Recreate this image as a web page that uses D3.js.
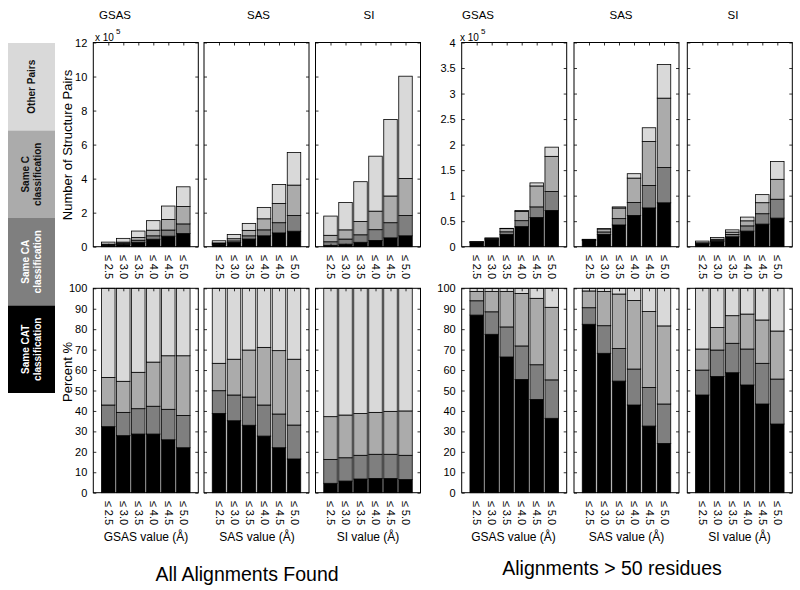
<!DOCTYPE html>
<html><head><meta charset="utf-8">
<script src="https://cdn.jsdelivr.net/npm/d3@7"></script>
<style>
body{margin:0;background:#fff}
text{font-family:"Liberation Sans",Arial,Helvetica,sans-serif}
</style>
</head><body>
<svg id="c" width="800" height="590"></svg>
<script>
// ---------- data ----------
const categories = ["≤ 2.5","≤ 3.0","≤ 3.5","≤ 4.0","≤ 4.5","≤ 5.0"];
const classes = ["Same CAT classification","Same CA classification","Same C classification","Other Pairs"];
const legendLines = [["Same CAT","classification"],["Same CA","classification"],["Same C","classification"],["Other Pairs"]];
const colors = ["#000000","#7f7f7f","#ababab","#d9d9d9"];
const legendText = ["#ffffff","#ffffff","#111111","#111111"];
const columnTitles = ["GSAS","SAS","SI"];
const xAxisTitles = ["GSAS value (Å)","SAS value (Å)","SI value (Å)"];
const groupTitles = ["All Alignments Found","Alignments > 50 residues"];
const countTicksAll = [0,2,4,6,8,10,12];
const countTicksLong = [0,0.5,1,1.5,2,2.5,3,3.5,4];
const percentTicks = [0,10,20,30,40,50,60,70,80,90,100];

// counts in units of 10^5, rows: CAT, CA, C, Other
const countAllGSAS = [[0.09,0.14,0.26,0.44,0.62,0.77],[0.03,0.06,0.12,0.20,0.36,0.57],[0.03,0.07,0.16,0.33,0.62,1.02],[0.12,0.22,0.38,0.56,0.79,1.16]];
const countAllSAS  = [[0.135,0.25,0.45,0.64,0.81,0.91],[0.04,0.09,0.19,0.35,0.60,0.92],[0.047,0.13,0.32,0.65,1.13,1.79],[0.128,0.25,0.41,0.67,1.12,1.92]];
const countAllSI   = [[0.08,0.15,0.26,0.37,0.52,0.64],[0.21,0.30,0.44,0.63,0.89,1.19],[0.38,0.54,0.78,1.09,1.57,2.18],[1.13,1.61,2.34,3.23,4.50,6.01]];
const countLongGSAS = [[0.085,0.132,0.239,0.393,0.57,0.71],[0.007,0.019,0.053,0.117,0.21,0.37],[0.004,0.017,0.062,0.182,0.41,0.69],[0.002,0.002,0.006,0.018,0.06,0.18]];
const countLongSAS  = [[0.119,0.241,0.426,0.613,0.76,0.86],[0.012,0.048,0.124,0.252,0.44,0.69],[0.012,0.059,0.208,0.479,0.86,1.36],[0.002,0.006,0.022,0.086,0.27,0.66]];
const countLongSI   = [[0.053,0.102,0.194,0.306,0.443,0.56],[0.013,0.024,0.047,0.102,0.203,0.37],[0.011,0.020,0.045,0.099,0.216,0.39],[0.033,0.034,0.044,0.073,0.158,0.35]];

// percentages, rows: CAT, CA, C, Other
const pctAllGSAS = [[32.3,27.9,28.7,28.7,25.9,22.0],[10.6,11.4,12.4,13.6,14.9,15.8],[13.5,15.2,17.8,21.6,26.2,29.2],[43.6,45.5,41.1,36.1,33.0,33.0]];
const pctAllSAS  = [[38.8,35.2,33.0,27.7,22.0,16.5],[11.1,12.6,13.8,15.2,16.5,16.6],[13.4,17.5,23.0,28.2,31.0,32.2],[36.7,34.7,30.2,28.9,30.5,34.7]];
const pctAllSI   = [[4.6,5.7,6.7,7.0,6.9,6.4],[11.7,11.4,11.6,11.8,11.9,11.9],[20.9,20.9,20.4,20.5,21.0,21.7],[62.8,62.0,61.3,60.7,60.2,60.0]];
const pctLongGSAS = [[86.9,77.5,66.4,55.4,45.6,36.4],[7.0,11.0,14.7,16.4,17.0,18.8],[4.5,9.9,17.3,25.7,32.5,35.5],[1.6,1.6,1.6,2.5,4.9,9.3]];
const pctLongSAS  = [[82.4,68.2,54.6,42.9,32.6,24.1],[8.1,13.5,15.9,17.6,18.9,19.3],[8.2,16.7,26.7,33.5,37.1,38.2],[1.3,1.6,2.8,6.0,11.4,18.4]];
const pctLongSI   = [[47.8,56.8,58.7,52.7,43.4,33.6],[12.2,13.0,14.4,17.6,19.9,22.0],[10.3,11.0,13.5,17.1,21.2,23.5],[29.7,19.2,13.4,12.6,15.5,20.9]];

// ---------- layout ----------
const svg = d3.select("#c");
const panelX = [93.3, 204, 315.5, 461.7, 574, 687.3];
const panelW = 105;
const topRow = [42.5, 246.7];
const botRow = [288.3, 492.7];

const countSets = [countAllGSAS,countAllSAS,countAllSI,countLongGSAS,countLongSAS,countLongSI];
const pctSets = [pctAllGSAS,pctAllSAS,pctAllSI,pctLongGSAS,pctLongSAS,pctLongSI];

function toRows(set){
  return categories.map((c,i)=>{
    const r = {cat:c, idx:i+1};
    classes.forEach((k,j)=> r[k]=set[j][i]);
    return r;
  });
}

function panel(x0, rowY, set, yMax, yTicks, showLabels, tickFmt){
  const x = d3.scaleLinear().domain([0,7]).range([x0, x0+panelW]);
  const y = d3.scaleLinear().domain([0,yMax]).range([rowY[1], rowY[0]]);
  const g = svg.append("g");
  g.append("rect").attr("x",x0).attr("y",rowY[0]).attr("width",panelW).attr("height",rowY[1]-rowY[0])
    .attr("fill","#fff");
  const stacked = d3.stack().keys(classes)(toRows(set));
  const bw = x(0.9)-x(0);
  stacked.forEach((layer,li)=>{
    g.selectAll(null).data(layer).join("rect")
      .attr("x",d=>x(d.data.idx)-bw/2)
      .attr("width",bw)
      .attr("y",d=>y(d[1]))
      .attr("height",d=>Math.max(0,y(d[0])-y(d[1])))
      .attr("fill",colors[li])
      .attr("stroke","#000").attr("stroke-width",0.8);
  });
  // axes with inward ticks
  const left = d3.axisLeft(y).tickValues(yTicks).tickSize(-3).tickPadding(6)
     .tickFormat(showLabels ? tickFmt : "");
  const ga = g.append("g").attr("transform",`translate(${x0},0)`).call(left);
  ga.select(".domain").remove();
  ga.selectAll("text").attr("font-size",11).attr("fill","#000");
  const right = d3.axisRight(y).tickValues(yTicks).tickSize(-3).tickFormat("");
  g.append("g").attr("transform",`translate(${x0+panelW},0)`).call(right).select(".domain").remove();
  const top = d3.axisTop(x).tickValues([1,2,3,4,5,6]).tickSize(-3).tickFormat("");
  g.append("g").attr("transform",`translate(0,${rowY[0]})`).call(top).select(".domain").remove();
  const bottom = d3.axisBottom(x).tickValues([1,2,3,4,5,6]).tickSize(-3).tickFormat((d)=>categories[d-1]);
  const gb = g.append("g").attr("transform",`translate(0,${rowY[1]})`).call(bottom);
  gb.select(".domain").remove();
  gb.selectAll("text").attr("transform","rotate(90)").attr("x",8).attr("y",0).attr("dy","0.35em")
    .style("text-anchor","start").attr("font-size",11).attr("fill","#000");
  g.selectAll(".tick line").attr("stroke","#000").attr("stroke-width",0.8);
  g.append("rect").attr("x",x0).attr("y",rowY[0]).attr("width",panelW).attr("height",rowY[1]-rowY[0])
    .attr("fill","none").attr("stroke","#000").attr("stroke-width",1);
}

for(let p=0;p<6;p++){
  const isAll = p<3;
  panel(panelX[p], topRow, countSets[p], isAll?12:4, isAll?countTicksAll:countTicksLong, p===0||p===3, d=>String(d));
  panel(panelX[p], botRow, pctSets[p], 100, percentTicks, p===0||p===3, d=>String(d));
}

// column titles
const titleX = [115, 258.5, 369, 478, 621, 733];
titleX.forEach((tx,i)=>{
  svg.append("text").attr("x",tx).attr("y",19).attr("text-anchor","middle").attr("font-size",11.5)
    .text(columnTitles[i%3]);
});
// x axis titles
const xtX = [146, 257, 368, 513.5, 626.5, 739.5];
xtX.forEach((tx,i)=>{
  svg.append("text").attr("x",tx).attr("y",541).attr("text-anchor","middle").attr("font-size",12)
    .text(xAxisTitles[i%3]);
});
// group titles
svg.append("text").attr("x",247).attr("y",581).attr("text-anchor","middle").attr("font-size",19.5).text(groupTitles[0]);
svg.append("text").attr("x",612).attr("y",575).attr("text-anchor","middle").attr("font-size",19.5).text(groupTitles[1]);

// y axis titles
svg.append("text").attr("transform","translate(72,145) rotate(-90)").attr("text-anchor","middle").attr("font-size",13)
  .text("Number of Structure Pairs");
svg.append("text").attr("transform","translate(72,372) rotate(-90)").attr("text-anchor","middle").attr("font-size",13)
  .text("Percent %");

// exponent labels
[[95,"x 10"],[460,"x 10"]].forEach(([ex,t])=>{
  const tt = svg.append("text").attr("x",ex).attr("y",41).attr("font-size",10);
  tt.append("tspan").text(t);
  tt.append("tspan").attr("dx",2).attr("dy",-7).attr("font-size",8).text("5");
});

// legend
const legTop = 43, legH = 87.5, legX = 8, legW = 47;
[3,2,1,0].forEach((ci,k)=>{
  const yy = legTop + k*legH;
  svg.append("rect").attr("x",legX).attr("y",yy).attr("width",legW).attr("height",legH).attr("fill",colors[ci]);
  const lines = legendLines[ci];
  const cx = legX + legW/2, cy = yy + legH/2;
  const t = svg.append("text").attr("transform",`translate(${cx},${cy}) rotate(-90)`)
    .attr("text-anchor","middle").attr("font-size",10).attr("font-weight","bold").attr("fill",legendText[ci]);
  lines.forEach((ln,i)=>{
    t.append("tspan").attr("x",0).attr("y", (i-(lines.length-1)/2)*12 + 3.5).text(ln);
  });
});
</script>
</body></html>
